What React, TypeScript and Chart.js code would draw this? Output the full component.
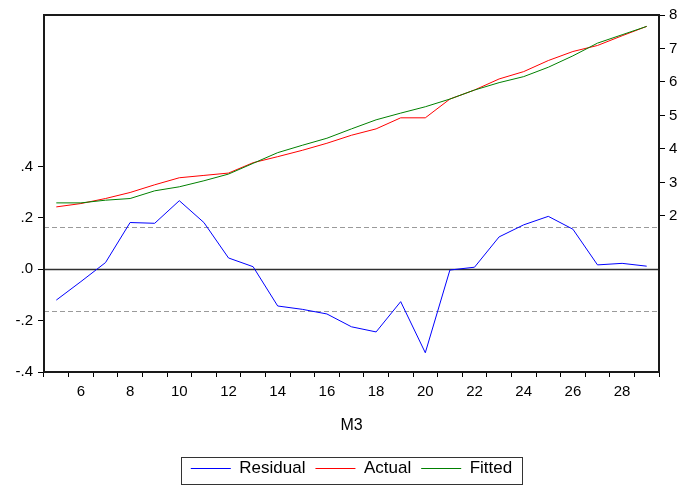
import React, { useEffect, useRef } from "react";
import { Chart, registerables } from "chart.js";

Chart.register(...registerables);

// ---------- data ----------
const categories = [5, 6, 7, 8, 9, 10, 11, 12, 13, 14, 15, 16, 17, 18, 19, 20, 21, 22, 23, 24, 25, 26, 27, 28, 29];
const residual = [-0.12, -0.048, 0.026, 0.182, 0.179, 0.267, 0.182, 0.044, 0.01, -0.143, -0.156, -0.174, -0.224, -0.244, -0.126, -0.325, -0.003, 0.008, 0.126, 0.173, 0.206, 0.156, 0.017, 0.023, 0.012];
const actual = [2.27, 2.37, 2.52, 2.7, 2.93, 3.14, 3.21, 3.28, 3.59, 3.77, 3.96, 4.17, 4.41, 4.6, 4.93, 4.93, 5.49, 5.76, 6.09, 6.31, 6.64, 6.91, 7.09, 7.38, 7.66];
const fitted = [2.39, 2.39, 2.47, 2.52, 2.75, 2.87, 3.05, 3.25, 3.57, 3.89, 4.11, 4.32, 4.6, 4.87, 5.07, 5.26, 5.49, 5.76, 5.98, 6.16, 6.44, 6.78, 7.16, 7.41, 7.66];
const leftTicks = [-0.4, -0.2, 0, 0.2, 0.4];
const rightTicks = [2, 3, 4, 5, 6, 7, 8];
const leftMin = -0.4;
const leftMax = 0.99;
const rightMin = -2.66;
const rightMax = 8;
const residualBand = 0.164;
const xTitle = "M3";
const seriesNames = ["Residual", "Actual", "Fitted"];

const FONT = "'Liberation Sans', Arial, Helvetica, sans-serif";

const fmtLeft = (v: number) => {
  if (Math.abs(v) < 1e-9) return ".0";
  const s = Math.abs(v).toFixed(1).replace(/^0/, "");
  return (v < 0 ? "-" : "") + s;
};

const framePlugin = {
  id: "frameAndRefLines",
  beforeDatasetsDraw(chart: any) {
    const { ctx, chartArea: a, scales } = chart;
    const y = scales.y;
    ctx.save();
    ctx.beginPath();
    ctx.rect(a.left, a.top, a.right - a.left, a.bottom - a.top);
    ctx.clip();
    ctx.lineWidth = 1;
    ctx.strokeStyle = "#9a9a9a";
    ctx.setLineDash([5, 3]);
    for (const v of [residualBand, -residualBand]) {
      const py = Math.round(y.getPixelForValue(v)) + 0.5;
      ctx.beginPath();
      ctx.moveTo(a.left, py);
      ctx.lineTo(a.right, py);
      ctx.stroke();
    }
    ctx.setLineDash([]);
    ctx.strokeStyle = "#303030";
    ctx.lineWidth = 1.3;
    const z = Math.round(y.getPixelForValue(0)) + 0.5;
    ctx.beginPath();
    ctx.moveTo(a.left, z);
    ctx.lineTo(a.right, z);
    ctx.stroke();
    ctx.restore();
  },
  afterDraw(chart: any) {
    const { ctx, chartArea: a } = chart;
    ctx.save();
    ctx.strokeStyle = "#1a1a1a";
    ctx.lineWidth = 2;
    ctx.strokeRect(a.left, a.top, a.right - a.left, a.bottom - a.top);
    const hb = chart.legend && chart.legend.legendHitBoxes;
    if (hb && hb.length) {
      const first = hb[0];
      const last = hb[hb.length - 1];
      const x0 = Math.round(first.left - 10) + 0.5;
      const x1 = Math.round(last.left + last.width + 10) + 0.5;
      const y0 = Math.round(first.top - 3) + 0.5;
      const y1 = Math.round(first.top + first.height + 7) + 0.5;
      ctx.strokeStyle = "#333";
      ctx.lineWidth = 1;
      ctx.strokeRect(x0, y0, x1 - x0, y1 - y0);
    }
    ctx.restore();
  },
};

export default function App() {
  const ref = useRef<HTMLCanvasElement | null>(null);

  useEffect(() => {
    if (!ref.current) return;
    const tickFont = { family: FONT, size: 15 };
    const chart = new Chart(ref.current, {
      type: "line",
      data: {
        labels: categories.map(String),
        datasets: [
          {
            label: seriesNames[0],
            data: residual,
            borderColor: "#0000ff",
            backgroundColor: "#0000ff",
            borderWidth: 1,
            pointRadius: 0,
            tension: 0,
            yAxisID: "y",
            order: 0,
          },
          {
            label: seriesNames[1],
            data: actual,
            borderColor: "#ff0000",
            backgroundColor: "#ff0000",
            borderWidth: 1,
            pointRadius: 0,
            tension: 0,
            yAxisID: "y1",
            order: 2,
          },
          {
            label: seriesNames[2],
            data: fitted,
            borderColor: "#008000",
            backgroundColor: "#008000",
            borderWidth: 1,
            pointRadius: 0,
            tension: 0,
            yAxisID: "y1",
            order: 1,
          },
        ],
      },
      options: {
        animation: false,
        responsive: false,
        layout: { padding: { top: 15, left: 0, right: 0, bottom: 0 } },
        plugins: {
          tooltip: { enabled: false },
          legend: {
            position: "bottom",
            fullSize: false,
            labels: {
              boxWidth: 40,
              boxHeight: 1,
              padding: 10,
              color: "#000",
              font: { family: FONT, size: 17 },
              generateLabels: (c: any) =>
                c.data.datasets.map((ds: any, i: number) => ({
                  text: ds.label,
                  fillStyle: ds.borderColor,
                  strokeStyle: ds.borderColor,
                  lineWidth: 0,
                  hidden: false,
                  datasetIndex: i,
                  fontColor: "#000",
                })),
            },
          },
        },
        scales: {
          x: {
            type: "category",
            offset: true,
            grid: {
              offset: true,
              drawOnChartArea: false,
              drawTicks: true,
              tickLength: 5,
              color: "#000",
              tickWidth: 1,
            },
            border: { display: true, color: "#1a1a1a", width: 2 },
            ticks: {
              autoSkip: false,
              maxRotation: 0,
              color: "#000",
              font: tickFont,
              padding: 6,
              callback: (_v: any, i: number) =>
                categories[i] % 2 === 0 ? String(categories[i]) : "",
            },
            title: {
              display: true,
              text: xTitle,
              color: "#000",
              font: { family: FONT, size: 16 },
              padding: { top: 0, bottom: 15 },
            },
            afterFit: (s: any) => {
              s.height = 78;
            },
          },
          y: {
            type: "linear",
            position: "left",
            min: leftMin,
            max: leftMax,
            grid: {
              drawOnChartArea: false,
              drawTicks: true,
              tickLength: 6,
              color: "#000",
              tickWidth: 1,
            },
            border: { display: true, color: "#1a1a1a", width: 2 },
            ticks: {
              color: "#000",
              font: tickFont,
              padding: 5,
              callback: (v: any) => fmtLeft(Number(v)),
            },
            afterBuildTicks: (s: any) => {
              s.ticks = leftTicks.map((v) => ({ value: v }));
            },
            afterFit: (s: any) => {
              s.width = 44;
            },
          },
          y1: {
            type: "linear",
            position: "right",
            min: rightMin,
            max: rightMax,
            grid: {
              drawOnChartArea: false,
              drawTicks: true,
              tickLength: 6,
              color: "#000",
              tickWidth: 1,
            },
            border: { display: true, color: "#1a1a1a", width: 2 },
            ticks: {
              color: "#000",
              font: tickFont,
              padding: 4,
              callback: (v: any) => String(v),
            },
            afterBuildTicks: (s: any) => {
              s.ticks = rightTicks.map((v) => ({ value: v }));
            },
            afterFit: (s: any) => {
              s.width = 22;
            },
          },
        },
      },
      plugins: [framePlugin],
    } as any);
    return () => chart.destroy();
  }, []);

  return (
    <div style={{ position: "absolute", left: 0, top: 0, width: 681, height: 487, background: "#fff" }}>
      <canvas ref={ref} width={681} height={487} style={{ display: "block" }} />
    </div>
  );
}
